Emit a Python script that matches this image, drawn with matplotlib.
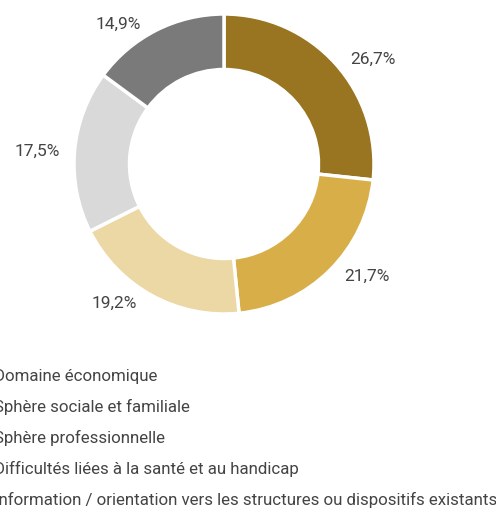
import numpy as np
import matplotlib.pyplot as plt

categories = [
    "Domaine économique",
    "Sphère sociale et familiale",
    "Sphère professionnelle",
    "Difficultés liées à la santé et au handicap",
    "Information / orientation vers les structures ou dispositifs existants",
]
shares = [26.7, 21.7, 19.2, 17.5, 14.9]
colors = ["#997421", "#D8AE48", "#ECD8A5", "#D9D9D9", "#7A7A7A"]

W, H = 496, 510
plt.rcParams["font.family"] = ["Roboto", "DejaVu Sans"]
text_color = "#444444"

fig = plt.figure(figsize=(W / 100, H / 100), dpi=100)

# donut centre at (224, 165) px, outer radius 150 px
cx, cy, R = 224, 165, 150
half = 1.5 * R
ax = fig.add_axes([(cx - half) / W, (H - cy - half) / H, 2 * half / W, 2 * half / H])

wedges, texts = ax.pie(
    shares, colors=colors, startangle=90, counterclock=False, radius=1,
    wedgeprops=dict(width=0.37, edgecolor="white", linewidth=2.5),
)
ax.set_xlim(-1.5, 1.5)
ax.set_ylim(-1.5, 1.5)
ax.axis("off")

# percentage labels: anchored at the outer edge, padded sideways
for w, v in zip(wedges, shares):
    mid = np.deg2rad((w.theta1 + w.theta2) / 2)
    x, y = np.cos(mid), np.sin(mid)
    side = 1 if x > 0 else -1
    ax.text(x + 0.1 * side, 1.05 * y, f"{v:.1f}%".replace(".", ","),
            ha="left" if side > 0 else "right", va="center",
            fontsize=12.5, color=text_color, clip_on=False)

# legend (markers sit outside the visible area)
y0, step = 376, 31
for i, lab in enumerate(categories):
    fig.text(-6 / W, 1 - (y0 + i * step) / H, lab, ha="left", va="center",
             fontsize=12.2, color=text_color)

fig.savefig("out.png", dpi=100)
